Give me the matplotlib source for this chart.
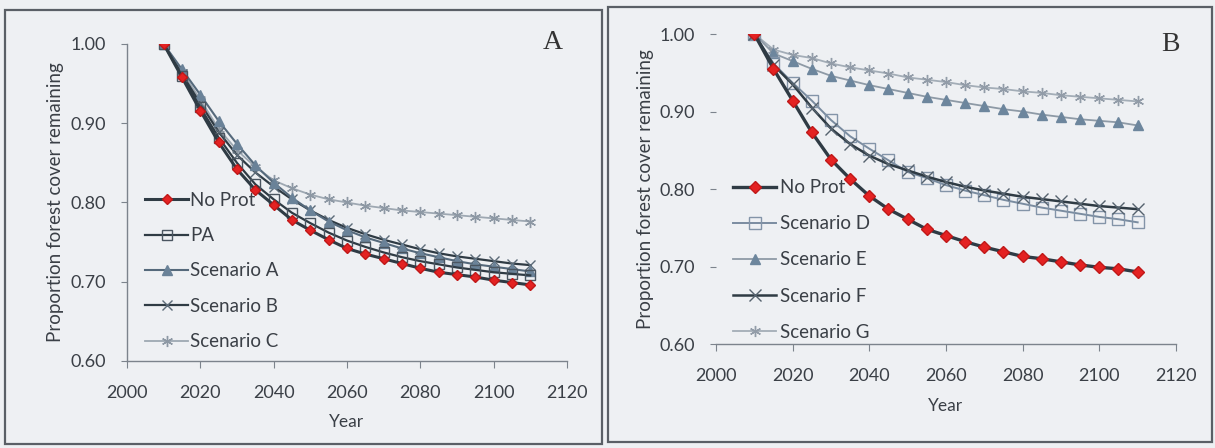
import numpy as np
import matplotlib.pyplot as plt
from matplotlib.patches import Rectangle

# years (every 5 years)
years = list(range(2010, 2111, 5))

# panel A
no_prot_a = [1.000, 0.958, 0.916, 0.876, 0.842, 0.816, 0.797, 0.778, 0.765, 0.753, 0.742,
             0.735, 0.729, 0.723, 0.717, 0.712, 0.709, 0.706, 0.702, 0.699, 0.696]
pa = [1.000, 0.960, 0.920, 0.882, 0.850, 0.823, 0.804, 0.787, 0.774, 0.762, 0.752,
      0.744, 0.737, 0.731, 0.726, 0.722, 0.718, 0.715, 0.712, 0.710, 0.708]
scen_a = [1.000, 0.968, 0.936, 0.903, 0.874, 0.847, 0.825, 0.806, 0.790, 0.776, 0.765,
          0.756, 0.749, 0.742, 0.736, 0.731, 0.726, 0.722, 0.719, 0.716, 0.713]
scen_b = [1.000, 0.962, 0.925, 0.889, 0.860, 0.838, 0.820, 0.804, 0.790, 0.778, 0.768,
          0.760, 0.753, 0.747, 0.741, 0.736, 0.732, 0.729, 0.726, 0.723, 0.721]
scen_c = [1.000, 0.965, 0.930, 0.893, 0.866, 0.845, 0.828, 0.818, 0.810, 0.804, 0.800,
          0.796, 0.793, 0.790, 0.788, 0.786, 0.784, 0.782, 0.780, 0.778, 0.776]

# panel B
no_prot_b = [1.000, 0.955, 0.914, 0.873, 0.838, 0.813, 0.791, 0.774, 0.761, 0.748, 0.740,
             0.732, 0.725, 0.719, 0.713, 0.710, 0.706, 0.702, 0.699, 0.697, 0.693]
scen_d = [1.000, 0.962, 0.937, 0.914, 0.889, 0.868, 0.852, 0.837, 0.822, 0.814, 0.805,
          0.798, 0.792, 0.786, 0.781, 0.776, 0.772, 0.768, 0.764, 0.761, 0.757]
scen_e = [1.000, 0.975, 0.965, 0.955, 0.946, 0.940, 0.934, 0.929, 0.924, 0.919, 0.915,
          0.911, 0.907, 0.903, 0.900, 0.896, 0.893, 0.890, 0.888, 0.886, 0.882]
scen_f = [1.000, 0.960, 0.935, 0.905, 0.878, 0.858, 0.843, 0.832, 0.824, 0.816, 0.809,
          0.803, 0.798, 0.794, 0.790, 0.787, 0.784, 0.781, 0.778, 0.776, 0.774]
scen_g = [1.000, 0.980, 0.973, 0.969, 0.962, 0.957, 0.953, 0.949, 0.944, 0.941, 0.938,
          0.934, 0.931, 0.929, 0.926, 0.924, 0.921, 0.919, 0.917, 0.915, 0.913]

bg = '#eef0f3'
dark = '#2f3b44'
txt = '#3a3f46'
star = (6, 2, 0)

plt.rcParams['font.family'] = ['Lato', 'DejaVu Sans']

fig = plt.figure(figsize=(12.15, 4.48), dpi=100, facecolor=bg)

# panel boxes
fig.add_artist(Rectangle((0.0041, 0.0089), 0.4914, 0.9688, transform=fig.transFigure,
                         fill=False, ec='#5a5f66', lw=1.6))
fig.add_artist(Rectangle((0.5004, 0.0134), 0.4971, 0.9710, transform=fig.transFigure,
                         fill=False, ec='#5a5f66', lw=1.6))

axA = fig.add_axes([0.1045, 0.1942, 0.3621, 0.7076])
axB = fig.add_axes([0.5893, 0.2321, 0.3786, 0.6920])

# panel A
lc = axA.plot(years, scen_c, color='#9ea8b2', lw=1.3, marker=star, ms=8, mec='#8d98a4', mew=1.0, label='Scenario C')
lb = axA.plot(years, scen_b, color=dark, lw=1.6, marker='x', ms=7, mec='#5c6b78', mew=1.0, label='Scenario B')
la = axA.plot(years, scen_a, color='#55697b', lw=1.5, marker='^', ms=7, mfc='#6a8298', mec='#6a8298', label='Scenario A')
lp = axA.plot(years, pa, color=dark, lw=1.6, marker='s', ms=7, mfc='none', mec='#4a5560', mew=1.0, label='PA')
ln = axA.plot(years, no_prot_a, color=dark, lw=2.2, marker='D', ms=5.5, mfc='#e42222', mec='#c01818', label='No Prot')

# panel B
lg = axB.plot(years, scen_g, color='#a3adb7', lw=1.3, marker=star, ms=8, mec='#929ca8', mew=1.0, label='Scenario G')
le = axB.plot(years, scen_e, color='#8e9aa6', lw=1.3, marker='^', ms=7, mfc='#6d869d', mec='#6d869d', label='Scenario E')
ld = axB.plot(years, scen_d, color='#7a8ca0', lw=1.4, marker='s', ms=8, mfc='none', mec='#8394a8', mew=1.0, label='Scenario D')
lf = axB.plot(years, scen_f, color=dark, lw=1.8, marker='x', ms=8, mec='#55626e', mew=1.0, label='Scenario F')
ln2 = axB.plot(years, no_prot_b, color=dark, lw=2.4, marker='D', ms=6, mfc='#e42222', mec='#c01818', label='No Prot')

for ax in (axA, axB):
    ax.set_facecolor(bg)
    ax.set_xlim(2000, 2120)
    ax.set_ylim(0.60, 1.00)
    ax.set_xticks(range(2000, 2121, 20))
    ax.set_yticks([0.60, 0.70, 0.80, 0.90, 1.00])
    ax.set_yticklabels(['%.2f' % v for v in [0.60, 0.70, 0.80, 0.90, 1.00]])
    for s in ['top', 'right']:
        ax.spines[s].set_visible(False)
    for s in ['left', 'bottom']:
        ax.spines[s].set_color('#7c838c')
        ax.spines[s].set_linewidth(1.0)
    ax.tick_params(axis='x', direction='out', length=5, color='#7c838c', pad=12,
                   labelsize=13, labelcolor=txt)
    ax.tick_params(axis='y', direction='out', length=4, color='#7c838c', pad=11,
                   labelsize=13, labelcolor=txt)
    ax.set_xlabel('Year', fontsize=12.5, color=txt, labelpad=10)

axA.set_ylabel('Proportion forest cover remaining', fontsize=13.5, color=txt, labelpad=5)
axB.set_ylabel('Proportion forest cover remaining', fontsize=13.5, color=txt, labelpad=4)
axB.spines['left'].set_visible(False)

# legends
axA.legend([ln[0], lp[0], la[0], lb[0], lc[0]], ['No Prot', 'PA', 'Scenario A', 'Scenario B', 'Scenario C'],
           loc='upper left', bbox_to_anchor=(0.1193, 0.572),
           bbox_transform=fig.transFigure, frameon=False, fontsize=13.5,
           handlelength=2.3, handletextpad=0.1, labelspacing=0.98,
           borderpad=0, borderaxespad=0, labelcolor=txt)
axB.legend([ln2[0], ld[0], le[0], lf[0], lg[0]], ['No Prot', 'Scenario D', 'Scenario E', 'Scenario F', 'Scenario G'],
           loc='upper left', bbox_to_anchor=(0.6033, 0.600),
           bbox_transform=fig.transFigure, frameon=False, fontsize=13.5,
           handlelength=2.3, handletextpad=0.2, labelspacing=1.02,
           borderpad=0, borderaxespad=0, labelcolor=txt)

fig.text(0.455, 0.906, 'A', family='Liberation Serif', fontsize=20, color='#333', ha='center', va='center')
fig.text(0.963, 0.900, 'B', family='Liberation Serif', fontsize=20, color='#333', ha='center', va='center')

fig.savefig('out.png', dpi=100, facecolor=bg)
